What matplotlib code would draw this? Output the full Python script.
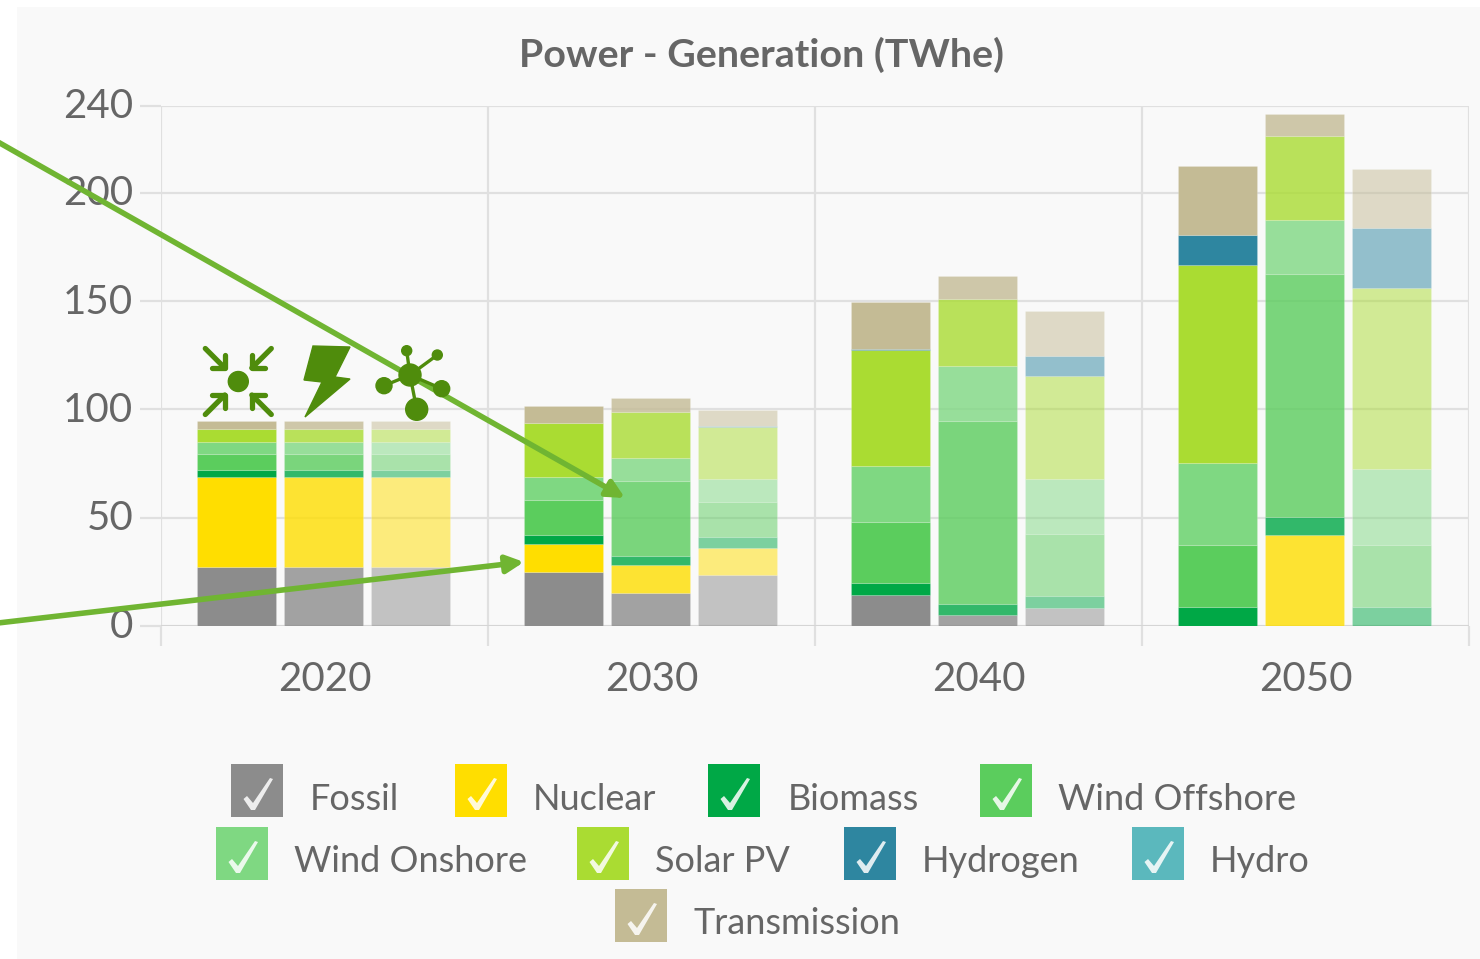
"""Power - Generation (TWhe): stacked bars per decade, three scenarios each"""
import numpy as np
import matplotlib
matplotlib.use("Agg")
import matplotlib.pyplot as plt
from matplotlib.colors import to_rgba
from matplotlib.patches import Rectangle, Polygon, Circle, FancyArrowPatch
from matplotlib.transforms import ScaledTranslation

plt.rcParams["font.family"] = ["Lato", "DejaVu Sans"]

years = ["2020", "2030", "2040", "2050"]
series = ["Fossil", "Nuclear", "Biomass", "Wind Offshore", "Wind Onshore",
          "Solar PV", "Hydrogen", "Hydro", "Transmission"]
colors = ["#8c8c8c", "#ffde00", "#00a846", "#5bcd5d", "#7fd882",
          "#aadc32", "#2e86a0", "#5bb8bd", "#c4bb95"]

# three bars per year, in order 2020 a/b/c, 2030 a/b/c ...
fossil = [27.4, 27.4, 27.4, 25.0, 15.4, 23.4, 14.3, 5.0, 8.3, 0, 0, 0]
nuclear = [41.6, 41.6, 41.6, 12.9, 12.6, 12.5, 0, 0, 0, 0, 42.0, 0]
biomass = [3.0, 3.0, 3.0, 4.1, 4.3, 5.1, 5.6, 5.0, 5.6, 8.8, 8.3, 8.8]
wind_off = [7.4, 7.4, 7.4, 16.2, 34.8, 16.4, 28.1, 84.7, 28.6, 28.6, 112.3, 28.6]
wind_on = [5.3, 5.3, 5.3, 10.5, 10.6, 10.4, 25.9, 25.3, 25.4, 37.9, 24.9, 35.1]
solar = [6.1, 6.1, 6.1, 24.9, 21.3, 24.2, 53.6, 31.0, 47.6, 91.4, 38.8, 83.5]
hydrogen = [0, 0, 0, 0, 0, 0.3, 0.5, 0, 9.2, 13.9, 0, 27.8]
hydro = [0, 0, 0, 0, 0, 0, 0, 0, 0, 0, 0, 0]
transmission = [4.0, 4.0, 4.0, 8.0, 6.2, 7.5, 21.7, 10.7, 20.8, 31.9, 10.2, 27.2]
stack = [fossil, nuclear, biomass, wind_off, wind_on, solar, hydrogen, hydro, transmission]

yticks = [0, 50, 100, 150, 200, 240]
alphas = [1.0, 0.8, 0.5]

W, H = 1480, 959
GREY = "#666666"
GRID = "#e0e0e0"
ARROW = "#70b532"
ICON = "#4f8c0c"

fig = plt.figure(figsize=(W / 100, H / 100), dpi=100, facecolor="white")
fig.patches.append(Rectangle((17 / W, 0), 1 - 17 / W, 1 - 7 / H, transform=fig.transFigure,
                             facecolor="#f9f9f9", edgecolor="none", zorder=-5))

ax = fig.add_axes([161 / W, 1 - 626 / H, (1469 - 161) / W, (626 - 106) / H])
ax.patch.set_alpha(0)
ax.set_xlim(-0.5, 3.5)
ax.set_ylim(0, 240)

# bars
x = np.array([i + d for i in range(4) for d in (-0.269, -0.003, 0.263)])
a = np.array(alphas * 4)
bottom = np.zeros(12)
for vals, col in zip(stack, colors):
    vals = np.array(vals, dtype=float)
    for xi, v, b, al in zip(x, vals, bottom, a):
        if v > 0:
            ax.bar(xi, v, width=0.2416, bottom=b, color=to_rgba(col, al),
                   edgecolor=(1, 1, 1, 0.15), linewidth=0.8, zorder=3)
    bottom += vals

# axes styling (highcharts look)
for s in ax.spines.values():
    s.set_visible(False)
ax.set_xticks(np.arange(-0.5, 4, 1))
ax.set_xticklabels([])
ax.set_xticks(range(4), minor=True)
ax.set_xticklabels(years, minor=True, fontsize=29, color=GREY)
ax.tick_params(axis="x", which="major", length=14.5, width=1.6, color=GRID)
ax.tick_params(axis="x", which="minor", length=0, pad=25.5)
ax.set_yticks(yticks)
ax.tick_params(axis="y", length=15, width=1.6, color=GRID, labelsize=29, labelcolor=GREY, pad=5)
for lab in ax.get_yticklabels():
    lab.set_transform(lab.get_transform() + ScaledTranslation(0, 2.5 / 100, fig.dpi_scale_trans))
ax.grid(True, which="major", color=GRID, lw=1.6, zorder=0)
ax.set_axisbelow(True)
ax.axhline(0, color="#d2d2d2", lw=1.8, zorder=2)

fig.text(762 / W, 1 - 55 / H, "Power - Generation (TWhe)", ha="center", va="center",
         fontsize=28.4, fontweight="bold", color=GREY)

# overlay in pixel coordinates: annotation arrows, icons, legend
ov = fig.add_axes([0, 0, 1, 1], zorder=10)
ov.set_xlim(0, W)
ov.set_ylim(H, 0)
ov.axis("off")

for start, end in [((-2, 142), (625, 498)), ((-2, 623), (524, 562))]:
    ov.add_patch(FancyArrowPatch(start, end, arrowstyle="-|>", mutation_scale=26, lw=4.0,
                                 color=ARROW, shrinkA=0, shrinkB=0))

# compress icon
ov.add_patch(Circle((238.3, 381.5), 10, color=ICON))
for sx, sy in [(-1, -1), (1, -1), (-1, 1), (1, 1)]:
    tip = (238.3 + sx * 13.5, 381.5 + sy * 13.5)
    ov.plot([238.3 + sx * 33, tip[0]], [381.5 + sy * 33, tip[1]], color=ICON, lw=3.8,
            solid_capstyle="round")
    ov.plot([tip[0] + sx * 13, tip[0], tip[0]], [tip[1], tip[1], tip[1] + sy * 13], color=ICON,
            lw=3.8, solid_capstyle="round", solid_joinstyle="round")

# bolt icon
ov.add_patch(Polygon([(313, 346), (350, 347), (335, 377), (350, 379), (305, 417),
                      (322, 382), (304, 380)], closed=True, color=ICON))

# network icon
hub = (410, 375)
nodes = [(406.7, 350.7, 5), (437.3, 355, 5), (384, 385.7, 8), (441.7, 388.7, 8), (416.7, 409.3, 11)]
for nx, ny, r in nodes:
    ov.plot([hub[0], nx], [hub[1], ny], color=ICON, lw=2.4)
    ov.add_patch(Circle((nx, ny), r, color=ICON))
ov.add_patch(Circle(hub, 11, color=ICON))

# legend
legend_pos = [(231, 764, 310, 799), (455, 764, 533, 799), (708, 764, 788, 799), (980, 764, 1058, 799),
              (216, 827, 294, 861), (577, 827, 655, 861), (844, 827, 922, 861), (1132, 827, 1210, 861),
              (615, 889, 694, 924)]
check = [(12.5, 35), (16, 32), (22, 39), (39, 14), (42, 15), (24, 46), (20, 46)]
for name, col, (sx, sy, tx, ty) in zip(series, colors, legend_pos):
    ov.add_patch(Rectangle((sx, sy), 52, 53, facecolor=col, edgecolor="none"))
    ov.add_patch(Polygon([(sx + cx, sy + cy) for cx, cy in check], closed=True,
                         facecolor="white", alpha=0.85, edgecolor="none"))
    ov.text(tx, ty, name, ha="left", va="center", fontsize=26, color=GREY)

fig.savefig("out.png", dpi=100, facecolor=fig.get_facecolor())
